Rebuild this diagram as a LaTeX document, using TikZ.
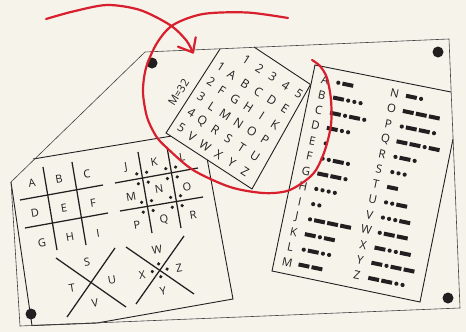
\documentclass[tikz,border=0pt]{standalone}
\usepackage{fontspec}
\setmainfont{Open Sans}
\usetikzlibrary{calc}
\definecolor{paper}{HTML}{F6F3EB}
\definecolor{inkred}{HTML}{D71F2D}
\definecolor{ink}{HTML}{231F20}

% morse code: * = dot, - = dash, drawn from the letter to the right
\newcommand\morsecode[1]{\def\mx{11.5}\expandafter\morsenext#1\relax}
\def\morsenext#1{\ifx#1\relax\else
	\ifx#1*\fill[ink] (\mx+2.1,0) circle (2.1pt);\pgfmathsetmacro\mx{\mx+6.3}%
	\else\fill[ink] (\mx,-2) rectangle (\mx+11,2);\pgfmathsetmacro\mx{\mx+13.3}\fi
	\expandafter\morsenext\fi}

\tikzset{
	sheetline/.style={draw=ink!85, line width=0.6pt},
	cardline/.style={draw=ink, line width=0.9pt},
	gridline/.style={draw=ink, line width=1.25pt},
	pgn/.style={inner sep=0pt, text=ink, font=\fontsize{11}{11}\selectfont, rotate=9.5},
	pol/.style={inner sep=0pt, text=ink, font=\fontsize{12}{12}\selectfont},
	mletter/.style={inner sep=0pt, text=ink, font=\fontsize{11.5}{11.5}\selectfont},
	redline/.style={draw=inkred, line width=2.2pt, line cap=round, line join=round},
}

\begin{document}
\begin{tikzpicture}[x=1pt, y=-1pt]
		\fill[paper] (0,0) rectangle (466,332);
		\useasboundingbox (0,0) rectangle (466,332);

		% left card with the pigpen grids
		\coordinate (lTL) at (33,159);
		\coordinate (lTR) at (202,131);
		\coordinate (lBR) at (233,299);
		\coordinate (lBM) at (97,323);
		\coordinate (lBL) at (32,325.5);
		\coordinate (lTop) at (11,182);
		\draw[cardline] (lTL) -- (lTR) -- (lBR) -- (lBM) -- (lBL) -- (lTop);

		\draw[gridline] (43,167) -- (57,250);
		\draw[gridline] (72,162) -- (86,245);
		\draw[gridline] (20,200) -- (103,185);
		\draw[gridline] (25,228) -- (108,213);

		\draw[gridline] (138,152) -- (152,233);
		\draw[gridline] (167,147) -- (181,228);
		\draw[gridline] (115,183) -- (198,168);
		\draw[gridline] (120,211) -- (203,197);
		\foreach \ix/\iy in {142.5/178, 171.5/172.8, 147.4/206.4, 176.4/201.5} {
			\begin{scope}[shift={(\ix,\iy)}, rotate=9.5]
				\foreach \a/\b in {-5/-5, 5/-5, -5/5, 5/5}
					\fill[ink] (\a,\b) circle (1.8pt);
			\end{scope}
		}

		\draw[gridline] (56,258) -- (126,307);
		\draw[gridline] (115,248) -- (67,317);
		\draw[gridline] (126,247) -- (194,294);
		\draw[gridline] (184,236) -- (136,304);
		\begin{scope}[shift={(159.7,270.3)}, rotate=9.5]
			\foreach \a/\b in {0/-6.5, 7.5/0, -7.5/0, 0/6.5}
				\fill[ink] (\a,\b) circle (1.8pt);
		\end{scope}

		\foreach \ltr/\px/\py in {A/32/183, B/59/179, C/87/174, D/35/213, E/64/208, F/93/203,
				G/42/243, H/70/237, I/98/233, J/126/167, K/154/162, L/182/157, M/131/197,
				N/159/189, O/187/187, P/137/225, Q/164/220, R/193/215, S/87/262, T/72/288,
				U/112/280, V/95/303, W/157/250, X/142/275, Y/163/291, Z/179/268}
			\node[pgn] (pig\ltr) at (\px,\py) {\ltr};

		% square card
		\fill[paper] (220,49) -- (166,133) -- (252,189) -- (310.5,84.5) -- (254,47) -- cycle;
		\draw[cardline] (220,49) -- (166,133) -- (252,189) -- (310.5,84.5) -- (254,47);
		\begin{scope}[shift={(228.6,50.9)}, rotate=-32.7, transform shape]
			\foreach \row [count=\r] in {{A,B,C,D,E},{F,G,H,I,K},{L,M,N,O,P},{Q,R,S,T,U},{V,W,X,Y,Z}}
				\foreach \ltr [count=\c] in \row
					\node[pol] (sq\ltr) at (15.8*\c,18.5*\r) {\ltr};
			\foreach \n in {1,...,5} {
				\node[pol] (col\n) at (4.4+15.6*\n,-2) {\n};
				\node[pol] (row\n) at (2,18.2*\n-1) {\n};
			}
			\node[pol, rotate=90, font=\fontsize{11}{11}\selectfont] (modulus) at (-19.5,62) {M=32};
		\end{scope}

		% morse card
		\fill[paper] (315,65) -- (451,92) -- (453,139) -- (420,302) -- (272,271) -- cycle;
		\draw[cardline] (451,92) -- (315,65) -- (272,271) -- (420,302) -- (453,139);
		\begin{scope}[shift={(325,80)}, rotate=-11.7, transform shape]
			\foreach \ltr/\code [count=\i from 0] in {A/*-, B/-***, C/-*-*, D/-**, E/*, F/**-*,
					G/--*, H/****, I/**, J/*---, K/-*-, L/*-**, M/--} {
				\node[mletter] (mo\ltr) at (0,15.5*\i) {\ltr};
				\begin{scope}[shift={(0,15.5*\i)}]
					\morsecode{\code}
				\end{scope}
			}
			\foreach \ltr/\code [count=\i from 0] in {N/-*, O/---, P/*--*, Q/--*-, R/*-*, S/***,
					T/-, U/**-, V/***-, W/*--, X/-**-, Y/-*--, Z/--**} {
				\node[mletter] (mo\ltr) at (71,15.5*\i-1) {\ltr};
				\begin{scope}[shift={(71,15.5*\i-1)}]
					\morsecode{\code}
				\end{scope}
			}
		\end{scope}

		% the sheet
		\coordinate (sTL) at (145,52);
		\coordinate (sTR) at (449,39);
		\coordinate (sBR) at (460,308);
		\coordinate (sBL) at (20,326);
		\draw[sheetline] (sTL) -- (sTR) -- (sBR) -- (sBL) -- (lTop) -- cycle;

		% pins
		\foreach \px/\py in {152/63, 438/52, 448/298, 31/314}
			\fill[ink] (\px,\py) circle (5.5pt);

		% red marks
		\coordinate (tip) at (193,52.5);
		\draw[redline] plot[smooth] coordinates {(46,19) (73,11.5) (107,5) (140,10) (170,25) (186,40) (tip)};
		\draw[redline] (178,46.7) -- (tip) -- (195.7,37.3);
		\draw[redline] plot[smooth] coordinates {(288,18) (247,12.5) (203,14) (173,25) (157,43) (146,68)
			(143,92) (147,117) (156,136) (167,148) (193,170) (230,187) (263,193) (287,191) (305,181)
			(316,170) (325,150) (331,125) (331,100) (327,78) (320,66) (312,60)};
	\end{tikzpicture}
\end{document}
